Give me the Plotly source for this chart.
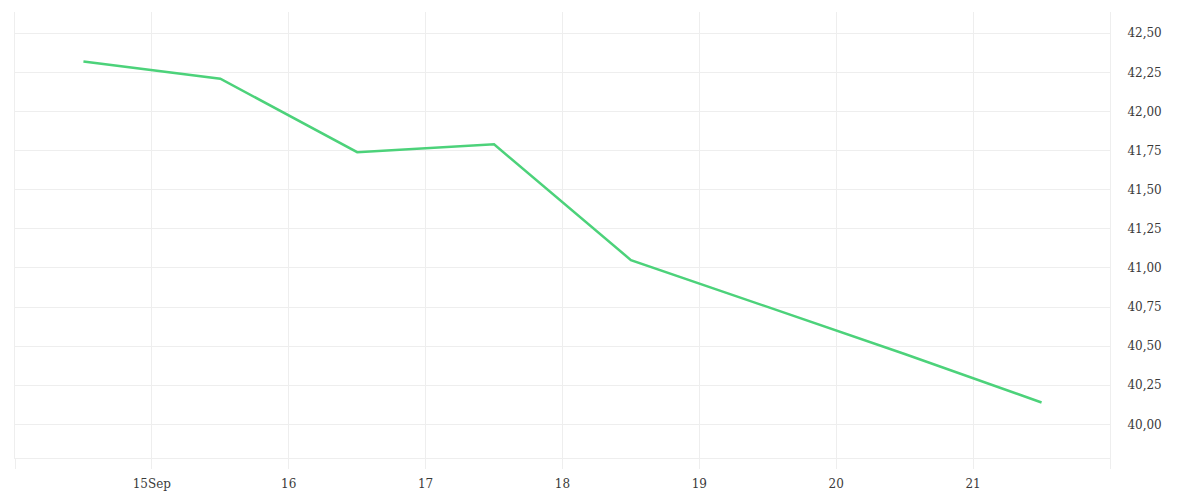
import plotly.graph_objects as go

# daily closes, plotted at midday
dates = ["2023-09-14 12:00", "2023-09-15 12:00", "2023-09-16 12:00", "2023-09-17 12:00",
         "2023-09-18 12:00", "2023-09-19 12:00", "2023-09-20 12:00", "2023-09-21 12:00"]
values = [42.32, 42.21, 41.74, 41.79, 41.05, 40.75, 40.45, 40.14]

x_tickvals = ["2023-09-14", "2023-09-15", "2023-09-16", "2023-09-17", "2023-09-18",
              "2023-09-19", "2023-09-20", "2023-09-21", "2023-09-22"]
x_ticktext = ["", "15Sep", "16", "17", "18", "19", "20", "21", ""]
y_tickvals = [40.00, 40.25, 40.50, 40.75, 41.00, 41.25, 41.50, 41.75, 42.00, 42.25, 42.50]

grid = "#eeeeee"

fig = go.Figure()
fig.add_trace(go.Scatter(
    x=dates, y=values,
    mode="lines",
    line=dict(color="#4cd27a", width=2.5),
    showlegend=False,
))

fig.update_layout(
    width=1200, height=500,
    margin=dict(l=7, r=98, t=4, b=50),
    paper_bgcolor="white",
    plot_bgcolor="white",
    separators=", ",
    font=dict(family="DejaVu Serif", size=12, color="#3a3a3a"),
    xaxis=dict(
        type="date",
        range=["2023-09-14", "2023-09-22"],
        tickvals=x_tickvals, ticktext=x_ticktext,
        showgrid=True, gridcolor=grid, gridwidth=1,
        ticks="outside", ticklen=10, tickcolor=grid,
        ticklabelstandoff=5,
        showline=True, linecolor=grid, linewidth=1,
        zeroline=False,
    ),
    yaxis=dict(
        side="right",
        range=[39.785, 42.636],
        tickvals=y_tickvals, tickformat=".2f",
        showgrid=True, gridcolor=grid, gridwidth=1,
        ticks="", ticklabelstandoff=14,
        showline=True, mirror=True, linecolor=grid, linewidth=1,
        zeroline=False,
    ),
)

fig.write_html("out.html")
